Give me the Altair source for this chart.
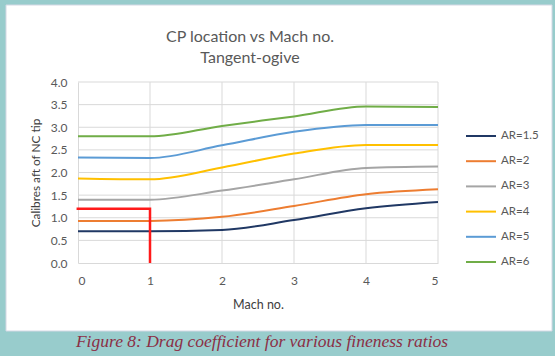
import altair as alt
import pandas as pd

# ---------------- data ----------------
MACH = [0, 1, 2, 3, 4, 5]
SERIES = ["AR=1.5", "AR=2", "AR=3", "AR=4", "AR=5", "AR=6"]
AR_1_5 = [0.70, 0.70, 0.73, 0.95, 1.21, 1.35]
AR_2 = [0.93, 0.93, 1.02, 1.26, 1.52, 1.63]
AR_3 = [1.40, 1.40, 1.60, 1.85, 2.10, 2.13]
AR_4 = [1.87, 1.85, 2.11, 2.42, 2.61, 2.61]
AR_5 = [2.33, 2.32, 2.60, 2.90, 3.05, 3.05]
AR_6 = [2.80, 2.80, 3.03, 3.24, 3.46, 3.45]
VALUES = [AR_1_5, AR_2, AR_3, AR_4, AR_5, AR_6]
COLORS = ["#203864", "#ed7d31", "#a5a5a5", "#ffc000", "#5b9bd5", "#70ad47"]

# red marker (horizontal to x=1 at 1.2, then down to 0)
RED_X = [-0.02, 1, 1]
RED_Y = [1.2, 1.2, 0.0]

X_TICKS = [0, 1, 2, 3, 4, 5]
Y_TICKS = [0.0, 0.5, 1.0, 1.5, 2.0, 2.5, 3.0, 3.5, 4.0]
X_GRID = [1, 2, 3, 4, 5]
Y_GRID = [0.5, 1.0, 1.5, 2.0, 2.5, 3.0, 3.5, 4.0]

TITLE = ["CP location vs Mach no.", "Tangent-ogive"]
Y_TITLE = "Calibres aft of NC tip"
X_TITLE = "Mach no."
CAPTION = "Figure 8: Drag coefficient for various fineness ratios"

rows = []
for name, vals in zip(SERIES, VALUES):
    for m, v in zip(MACH, vals):
        rows.append({"mach": m, "cp": v, "series": name})
df = pd.DataFrame(rows)
red_df = pd.DataFrame({"mach": RED_X, "cp": RED_Y, "i": list(range(len(RED_X)))})
xg_df = pd.DataFrame({"mach": X_GRID})
yg_df = pd.DataFrame({"cp": Y_GRID})

W, H = 360, 181
L, T = 78, 82
FONT = "Lato"
TEAL = "#98cccc"

xscale = alt.Scale(domain=[0, 5], nice=False)
yscale = alt.Scale(domain=[0, 4], nice=False)

AXIS_STYLE = dict(
    grid=False, ticks=False, domainColor="#d9d9d9", labelOverlap=False,
    labelFont=FONT, labelFontSize=12, labelColor="#595959",
    titleFont=FONT, titleFontWeight="normal", titleColor="#404040",
)
X_AXIS = alt.Axis(values=X_TICKS, format="d", title=X_TITLE,
                  titleX=W / 2, titleY=41, titleBaseline="middle",
                  titleFontSize=12.5, labelPadding=12, **AXIS_STYLE)
Y_AXIS = alt.Axis(values=Y_TICKS, format=".1f", title=Y_TITLE,
                  titleX=-43, titleY=H / 2, titleAngle=-90,
                  titleAlign="center", titleBaseline="middle",
                  titleFontSize=11.8, labelPadding=11, **AXIS_STYLE)


def X():
    return alt.X("mach:Q", scale=xscale, axis=X_AXIS)


def Y():
    return alt.Y("cp:Q", scale=yscale, axis=Y_AXIS)


one = pd.DataFrame({"a": [0]})


def strip(x0, x1, y0, y1):
    # teal frame pieces around the white panel (pixel decoration)
    return alt.Chart(one).mark_rect(fill=TEAL).encode(
        x=alt.value(x0 - L), x2=alt.value(x1 - L),
        y=alt.value(y0 - T), y2=alt.value(y1 - T),
    )


frame = [
    strip(0, 6, 0, 356),
    strip(0, 555, 0, 5),
    strip(552, 555, 0, 356),
    strip(0, 555, 331, 356),
]
edge = alt.Chart(one).mark_rect(fillOpacity=0, stroke="#d4d8e4", strokeWidth=1).encode(
    x=alt.value(6 - L), x2=alt.value(552 - L),
    y=alt.value(5 - T), y2=alt.value(331 - T),
)

xgrid = alt.Chart(xg_df).mark_rule(color="#d9d9d9", strokeWidth=1).encode(x=X())
ygrid = alt.Chart(yg_df).mark_rule(color="#d9d9d9", strokeWidth=1).encode(y=Y())

lines = alt.Chart(df).mark_line(interpolate="monotone", strokeWidth=2).encode(
    x=X(),
    y=Y(),
    color=alt.Color("series:N", sort=SERIES,
                    scale=alt.Scale(domain=SERIES, range=COLORS),
                    legend=alt.Legend(title=None, orient="none",
                                      legendX=387, legendY=38,
                                      symbolType="stroke", symbolSize=900,
                                      symbolStrokeWidth=2, labelOffset=4,
                                      rowPadding=3.2, labelFontSize=11.5,
                                      labelFont=FONT, labelColor="#595959")),
)

red = alt.Chart(red_df).mark_line(color="#ff1a1a", strokeWidth=2.5).encode(
    x=X(),
    y=Y(),
    order="i:Q",
)

caption = alt.Chart(pd.DataFrame({"t": [CAPTION]})).mark_text(
    font="Liberation Serif", fontStyle="italic", fontSize=17.5,
    color="#8b2f45", align="center", baseline="middle",
).encode(
    text="t:N", x=alt.value(262 - L), y=alt.value(342 - T)
)

chart = alt.layer(*frame, edge, xgrid, ygrid, lines, red, caption).properties(
    width=W, height=H,
    padding={"left": L, "top": T, "right": 555 - L - W, "bottom": 356 - T - H},
    autosize=alt.AutoSizeParams(type="none"),
    background="white",
    title=alt.TitleParams(TITLE, font=FONT, fontSize=16, fontWeight="normal",
                          color="#595959", anchor="middle", frame="group",
                          lineHeight=21, offset=0, dx=-8, dy=65.5),
).configure_view(stroke=None).configure_axis(labelOverlap=False)

chart.save("out.html", embed_options={"renderer": "svg", "actions": False})
